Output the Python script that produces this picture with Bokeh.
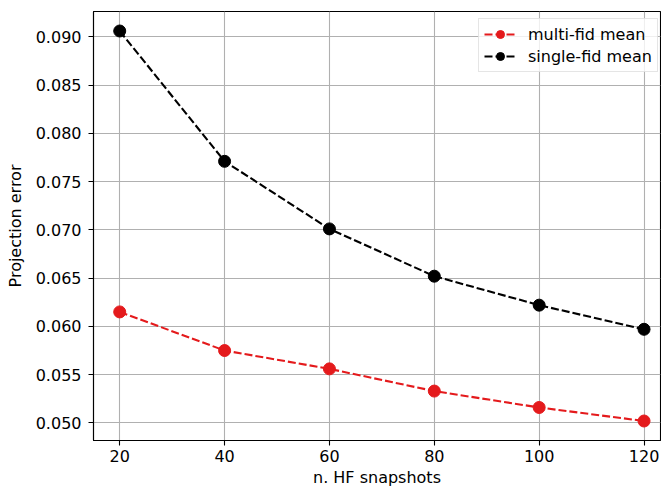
from bokeh.plotting import figure
from bokeh.models import FixedTicker, NumeralTickFormatter, Legend, LegendItem, Range1d
from bokeh.embed import file_html
from bokeh.resources import INLINE

# Number of high-fidelity snapshots and the mean projection errors
n_snapshots = [20, 40, 60, 80, 100, 120]
multi_fid_mean = [0.0615, 0.0575, 0.0556, 0.0533, 0.0516, 0.0502]
single_fid_mean = [0.0906, 0.0771, 0.0701, 0.0652, 0.0622, 0.0597]

x_ticks = [20, 40, 60, 80, 100, 120]
y_ticks = [0.050, 0.055, 0.060, 0.065, 0.070, 0.075, 0.080, 0.085, 0.090]

FONT = "DejaVu Sans"
FS = "16px"
RED = "#e41a1c"

p = figure(
    width=661, height=491,
    output_backend="svg", toolbar_location=None,
    x_range=Range1d(15, 123.14), y_range=Range1d(0.04818, 0.09262),
    min_border_left=93, min_border_right=1, min_border_top=11, min_border_bottom=51,
    background_fill_color="white", border_fill_color="white",
)

p.outline_line_color = "black"
p.outline_line_width = 1.1
p.outline_line_alpha = 1.0

for g in (p.xgrid, p.ygrid):
    g.grid_line_color = "#b0b0b0"
    g.grid_line_width = 1.1

p.xaxis.ticker = FixedTicker(ticks=x_ticks)
p.yaxis.ticker = FixedTicker(ticks=y_ticks)
p.yaxis.formatter = NumeralTickFormatter(format="0.000")
p.xaxis.axis_label = "n. HF snapshots"
p.yaxis.axis_label = "Projection error"

for ax in (p.xaxis, p.yaxis):
    ax.major_label_text_font = FONT
    ax.major_label_text_font_size = FS
    ax.major_label_text_color = "black"
    ax.axis_label_text_font = FONT
    ax.axis_label_text_font_size = FS
    ax.axis_label_text_font_style = "normal"
    ax.axis_label_text_color = "black"
    ax.axis_line_color = "black"
    ax.axis_line_width = 1.1
    ax.major_tick_line_color = "black"
    ax.major_tick_line_width = 1.1
    ax.major_tick_out = 5
    ax.major_tick_in = 0
    ax.minor_tick_line_color = None

p.yaxis.major_label_standoff = 7
p.yaxis.axis_label_standoff = 8
p.xaxis.major_label_standoff = 4
p.xaxis.axis_label_standoff = 3

# Multi-fidelity mean
l_multi = p.line(n_snapshots, multi_fid_mean, line_color=RED, line_width=2.1, line_dash="8 3")
c_multi = p.scatter(n_snapshots, multi_fid_mean, size=12, fill_color=RED, line_color=RED)

# Single-fidelity mean
l_single = p.line(n_snapshots, single_fid_mean, line_color="black", line_width=2.1, line_dash="8 3")
c_single = p.scatter(n_snapshots, single_fid_mean, size=12, fill_color="black", line_color="black")

legend = Legend(
    items=[
        LegendItem(label="multi-fid mean", renderers=[l_multi, c_multi]),
        LegendItem(label="single-fid mean", renderers=[l_single, c_single]),
    ],
    location=(385, 368),
    margin=0,
    padding=5,
    spacing=2,
    glyph_width=32,
    glyph_height=20,
    label_standoff=12,
    label_text_font=FONT,
    label_text_font_size=FS,
    label_text_color="black",
    border_line_color="#cccccc",
    border_line_width=1,
    background_fill_color="white",
    background_fill_alpha=0.8,
)
p.add_layout(legend, "center")

open("out.html", "w").write(file_html(p, INLINE))
